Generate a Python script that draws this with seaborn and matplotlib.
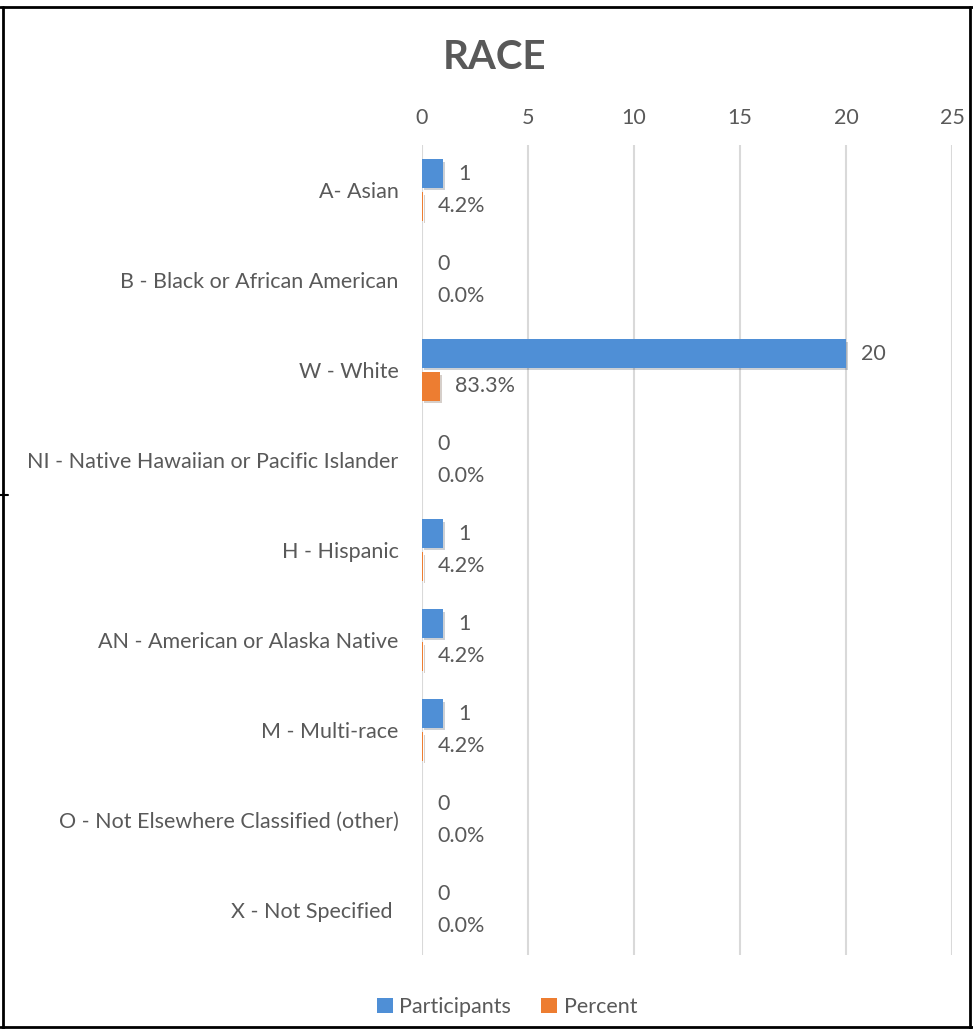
import matplotlib
matplotlib.use("Agg")
import matplotlib.pyplot as plt
import matplotlib.patheffects as pe
from matplotlib.lines import Line2D
import seaborn as sns
import pandas as pd

categories = [
    "A- Asian",
    "B - Black or African American",
    "W - White",
    "NI - Native Hawaiian or Pacific Islander",
    "H - Hispanic",
    "AN - American or Alaska Native",
    "M - Multi-race",
    "O - Not Elsewhere Classified (other)",
    "X - Not Specified ",
]
participants = [1, 0, 20, 0, 1, 1, 1, 0, 0]
percent = [0.042, 0.0, 0.833, 0.0, 0.042, 0.042, 0.042, 0.0, 0.0]
series_names = ["Participants", "Percent"]
x_ticks = [0, 5, 10, 15, 20, 25]
colors = ["#4f8fd6", "#ed7d31"]

df = pd.DataFrame({
    "category": categories * 2,
    "value": participants + percent,
    "series": [series_names[0]] * len(categories) + [series_names[1]] * len(categories),
})

sns.set_theme(style="white")
plt.rcParams["font.family"] = ["Lato", "DejaVu Sans"]
text_color = "#595959"
fs = 15.5

fig = plt.figure(figsize=(9.73, 10.29), dpi=100)
ax = fig.add_axes([422 / 973, 1 - 955 / 1029, (952 - 422) / 973, (955 - 145) / 1029])

ax.grid(axis="x", color="#d9d9d9", linewidth=1.5)
ax.set_axisbelow(True)

sns.barplot(data=df, y="category", x="value", hue="series", order=categories,
            hue_order=series_names, palette=colors, orient="h", width=0.733, gap=0.15,
            saturation=1, ax=ax, legend=True, linewidth=0, edgecolor="none")

for p in ax.patches:
    if p.get_width() > 0:
        p.set_path_effects([pe.SimplePatchShadow(offset=(1.5, -2), alpha=0.22), pe.Normal()])

# value labels
for cont, name in zip(ax.containers, series_names):
    if name == "Participants":
        labels = [f"{v:g}" for v in participants]
    else:
        labels = [f"{v:.1%}" for v in percent]
    ax.bar_label(cont, labels=labels, padding=11, fontsize=fs, color=text_color)

ax.set_xlim(0, 25)
ax.set_xticks(x_ticks)
ax.xaxis.tick_top()
ax.tick_params(axis="x", length=0, pad=12, labelsize=fs, labelcolor=text_color)
ax.tick_params(axis="y", length=0, pad=17, labelsize=fs, labelcolor=text_color)
ax.set_xlabel("")
ax.set_ylabel("")
for s in ax.spines.values():
    s.set_visible(False)
ax.grid(axis="y", visible=False)

ax.set_title("RACE", fontsize=29, fontweight="bold", color=text_color, pad=55)
ax.title.set_x((495 - 422) / (952 - 422))

leg = ax.legend(loc="center", ncol=2, frameon=False, fontsize=fs,
                handlelength=0.75, handleheight=0.75, handletextpad=0.3, columnspacing=1.4)
leg.set_bbox_to_anchor((507 / 973, 1 - 1007 / 1029), transform=fig.transFigure)
for t in leg.get_texts():
    t.set_color(text_color)

# outer frame
frame_kw = dict(color="black", linewidth=2, transform=fig.transFigure)
fig.add_artist(Line2D([0, 1], [1 - 7 / 1029, 1 - 7 / 1029], **frame_kw))
fig.add_artist(Line2D([3 / 973, 3 / 973], [0, 1 - 7 / 1029], **frame_kw))
fig.add_artist(Line2D([970 / 973, 970 / 973], [0, 1 - 7 / 1029], **frame_kw))
fig.add_artist(Line2D([0, 1], [1 - 1027 / 1029, 1 - 1027 / 1029], **frame_kw))
fig.add_artist(Line2D([0, 8 / 973], [1 - 495 / 1029, 1 - 495 / 1029], color="black", linewidth=1.5,
                      transform=fig.transFigure))

fig.savefig("out.png", dpi=100)
